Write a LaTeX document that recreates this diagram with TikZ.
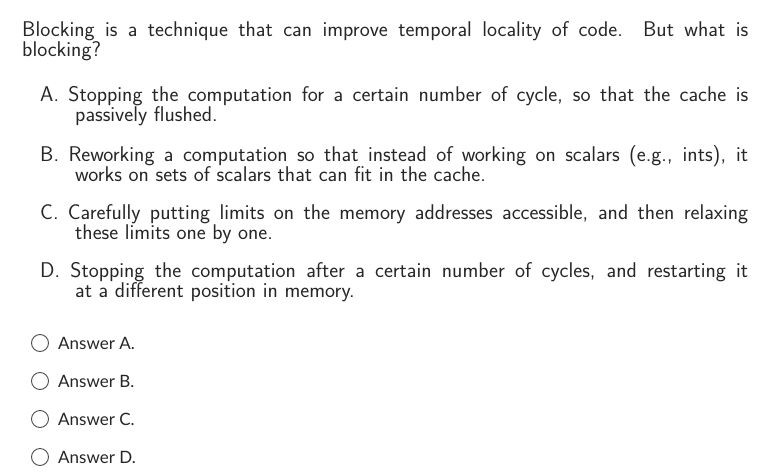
\documentclass[tikz,border=0pt]{standalone}
\usepackage{fontspec}
\setmainfont{Lato}
\setsansfont{Latin Modern Sans}
\begin{document}
\begin{tikzpicture}[x=1pt,y=-1pt,
  ln/.style={anchor=base west,inner sep=0pt,text=black!85,font=\sffamily\fontsize{21.3}{24}\selectfont},
  radio/.style={circle,draw=black!70,line width=0.9pt,minimum size=17pt,inner sep=0pt},
  ans/.style={anchor=west,inner sep=0pt,text=black!85,font=\fontsize{17}{20}\selectfont}]
\useasboundingbox[fill=white] (0,0) rectangle (783,473);
\node[ln] (q1) at (22,37) {\hbox to 726pt{Blocking is a technique that can improve temporal locality of code. But what is}};
\node[ln] (q2) at (22,57) {blocking?};
\node[ln] (a1) at (40,102) {\hbox to 708pt{A. Stopping the computation for a certain number of cycle, so that the cache is}};
\node[ln] (a2) at (75,122) {passively flushed.};
\node[ln] (b1) at (40,161) {\hbox to 708pt{B. Reworking a computation so that instead of working on scalars (e.g., ints), it}};
\node[ln] (b2) at (75,181) {works on sets of scalars that can fit in the cache.};
\node[ln] (c1) at (40,219) {\hbox to 708pt{C. Carefully putting limits on the memory addresses accessible, and then relaxing}};
\node[ln] (c2) at (75,239) {these limits one by one.};
\node[ln] (d1) at (40,277) {\hbox to 708pt{D. Stopping the computation after a certain number of cycles, and restarting it}};
\node[ln] (d2) at (75,297) {at a different position in memory.};
\foreach \y/\t [count=\i] in {343/A,381/B,419/C,457/D}{
  \node[radio] (r\i) at (40,\y) {};
  \node[ans] (t\i) at (58,\y) {Answer \t.};
}
\end{tikzpicture}
\end{document}
